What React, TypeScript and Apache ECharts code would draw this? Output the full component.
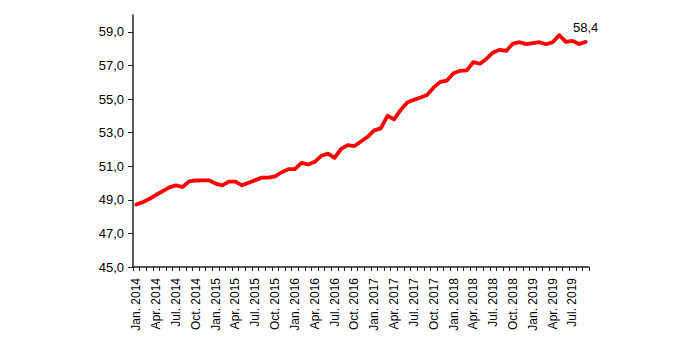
import React, { useEffect, useRef } from "react";
import * as echarts from "echarts";

const monthNames = ["Jan.", "Feb.", "Mar.", "Apr.", "May", "Jun.", "Jul.", "Aug.", "Sep.", "Oct.", "Nov.", "Dec."];
const years = [2014, 2015, 2016, 2017, 2018, 2019];
const lastMonthCount2019 = 9;

const categories: string[] = [];
years.forEach((y) => {
  const n = y === 2019 ? lastMonthCount2019 : 12;
  for (let m = 0; m < n; m++) categories.push(`${monthNames[m]} ${y}`);
});

const values = [
  // 2014
  48.72, 48.86, 49.06, 49.3, 49.52, 49.74, 49.86, 49.76, 50.1, 50.15, 50.16, 50.16,
  // 2015
  49.96, 49.86, 50.08, 50.08, 49.86, 50.02, 50.17, 50.32, 50.32, 50.4, 50.64, 50.82,
  // 2016
  50.82, 51.2, 51.1, 51.26, 51.62, 51.75, 51.5, 52.03, 52.25, 52.2, 52.47, 52.75,
  // 2017
  53.13, 53.25, 54.0, 53.79, 54.35, 54.79, 54.95, 55.09, 55.24, 55.69, 56.02, 56.1,
  // 2018
  56.53, 56.68, 56.7, 57.2, 57.1, 57.4, 57.77, 57.93, 57.87, 58.3, 58.38, 58.27,
  // 2019
  58.33, 58.38, 58.26, 58.38, 58.8, 58.4, 58.46, 58.27, 58.4,
];

const yTicks = [45, 47, 49, 51, 53, 55, 57, 59];

const FONT = "Liberation Sans, Arial, sans-serif";

export default function App() {
  const ref = useRef<HTMLDivElement>(null);
  useEffect(() => {
    if (!ref.current) return;
    const chart = echarts.init(ref.current, undefined, { renderer: "svg" });
    const last = values.length - 1;
    chart.setOption({
      animation: false,
      grid: { left: 133, right: 111, top: 15, bottom: 73 },
      xAxis: {
        type: "category",
        data: categories,
        boundaryGap: true,
        axisLine: { lineStyle: { color: "#222", width: 1.5 } },
        axisTick: { show: true, interval: 0, length: 4, lineStyle: { color: "#222", width: 1 } },
        axisLabel: {
          interval: 2,
          rotate: 90,
          margin: 11,
          color: "#000",
          fontSize: 12,
          fontFamily: FONT,
        },
      },
      yAxis: {
        type: "value",
        min: 45,
        max: 60,
        splitLine: { show: false },
        axisLine: { show: true, lineStyle: { color: "#222", width: 1.5 } },
        axisTick: { show: true, length: 5, customValues: yTicks, lineStyle: { color: "#222", width: 1 } },
        axisLabel: {
          customValues: yTicks,
          margin: 9,
          color: "#000",
          fontSize: 13,
          fontFamily: FONT,
          formatter: (v: number) => v.toFixed(1).replace(".", ","),
        },
      },
      series: [
        {
          type: "line",
          data: values.map((v, i) =>
            i === last
              ? {
                  value: v,
                  label: {
                    show: true,
                    position: "top",
                    distance: 8,
                    fontSize: 13,
                    color: "#000",
                    fontFamily: FONT,
                    formatter: () => v.toFixed(1).replace(".", ","),
                  },
                }
              : v
          ),
          symbol: "circle",
          symbolSize: 0,
          showSymbol: true,
          itemStyle: { color: "#ff0000" },
          lineStyle: { color: "#ff0000", width: 3.8, join: "round", cap: "round" },
        },
      ],
    });
    return () => chart.dispose();
  }, []);
  return (
    <div
      ref={ref}
      style={{ position: "fixed", left: 0, top: 0, width: 700, height: 340, background: "#fff" }}
    />
  );
}
